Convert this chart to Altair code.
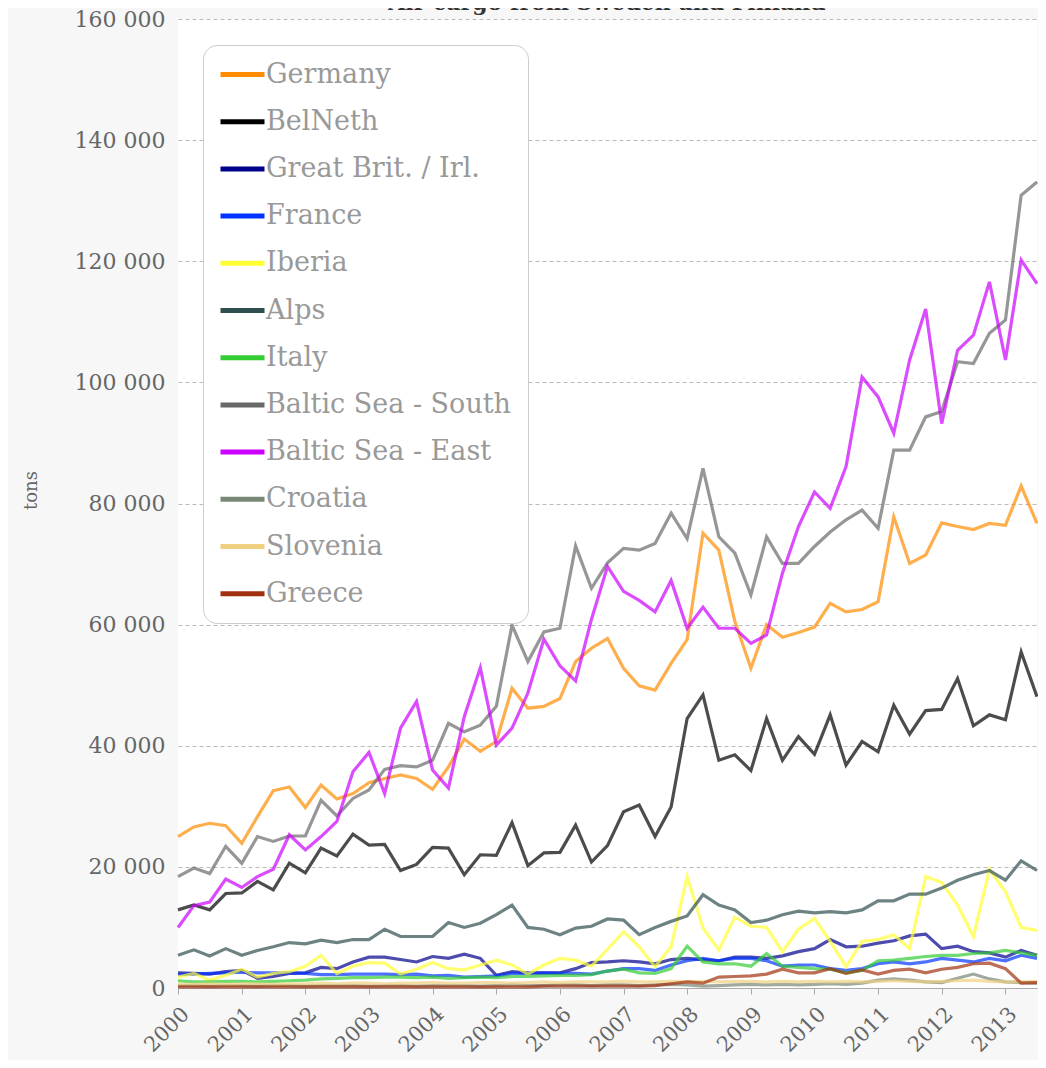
import altair as alt
import pandas as pd

# Quarterly time axis: 2000 Q1 .. 2013 Q3
quarters = [f"{y}/{m:02d}/01" for y in range(2000, 2014) for m in (1, 4, 7, 10)][:55]

series_names = ["Germany", "BelNeth", "Great Brit. / Irl.", "France", "Iberia", "Alps",
                "Italy", "Baltic Sea - South", "Baltic Sea - East", "Croatia", "Slovenia", "Greece"]
series_colors = ["#ff8c00", "#000000", "#00008b", "#0033ff", "#ffff33", "#2f4f4f",
                 "#33cc33", "#696969", "#cc00ff", "#778877", "#f0d080", "#a0300f"]

# values in thousand tons
germany = [25.0, 26.6, 27.2, 26.8, 23.9, 28.3, 32.6, 33.2, 29.8, 33.5, 31.2, 32.1, 33.9, 34.6,
           35.2, 34.6, 32.8, 36.5, 41.1, 39.1, 40.7, 49.5, 46.2, 46.5, 47.8, 53.9, 56.1, 57.7,
           52.8, 49.9, 49.2, 53.6, 57.5, 75.1, 72.3, 60.5, 52.8, 60.0, 57.9, 58.7, 59.6, 63.5,
           62.1, 62.5, 63.8, 77.8, 70.1, 71.5, 76.8, 76.2, 75.7, 76.7, 76.4, 82.9, 76.7]
belneth = [12.9, 13.7, 12.9, 15.6, 15.7, 17.6, 16.2, 20.6, 19.0, 23.1, 21.8, 25.4, 23.6, 23.7,
           19.4, 20.4, 23.2, 23.1, 18.7, 22.0, 21.9, 27.3, 20.2, 22.3, 22.4, 26.9, 20.8, 23.5,
           29.1, 30.2, 25.0, 29.9, 44.5, 48.4, 37.6, 38.5, 35.9, 44.5, 37.6, 41.5, 38.6, 45.1,
           36.8, 40.7, 39.0, 46.7, 41.9, 45.8, 46.0, 51.1, 43.3, 45.1, 44.3, 55.5, 48.1]
great_brit = [2.5, 2.4, 2.3, 2.7, 2.9, 1.6, 1.9, 2.4, 2.5, 3.4, 3.2, 4.3, 5.1, 5.1,
              4.7, 4.3, 5.2, 4.9, 5.6, 4.9, 2.1, 2.7, 2.5, 2.5, 2.5, 3.2, 4.2, 4.3,
              4.5, 4.3, 4.0, 4.7, 4.9, 4.7, 4.5, 5.1, 5.1, 4.9, 5.3, 6.0, 6.5, 8.0,
              6.8, 6.9, 7.4, 7.8, 8.6, 8.9, 6.5, 6.9, 6.0, 5.8, 5.1, 6.2, 5.4]
france = [2.2, 2.3, 2.4, 2.5, 2.6, 2.5, 2.5, 2.5, 2.4, 2.2, 2.2, 2.3, 2.3, 2.3,
          2.2, 2.3, 2.0, 2.1, 1.8, 1.9, 2.0, 2.4, 2.4, 2.5, 2.4, 2.4, 2.3, 2.8,
          3.2, 3.2, 2.9, 3.8, 4.5, 4.9, 4.5, 4.9, 4.9, 4.5, 3.6, 3.8, 3.8, 3.2,
          2.9, 3.2, 4.0, 4.3, 4.0, 4.3, 4.9, 4.6, 4.3, 4.9, 4.5, 5.4, 4.9]
iberia = [1.8, 2.4, 1.3, 2.1, 3.1, 1.8, 2.4, 2.7, 3.6, 5.4, 2.4, 3.6, 4.2, 4.1,
          2.3, 3.1, 4.2, 3.2, 3.0, 3.8, 4.6, 3.8, 2.3, 3.8, 4.9, 4.6, 3.6, 6.4,
          9.3, 6.8, 3.5, 6.8, 18.4, 9.9, 6.3, 11.7, 10.2, 10.0, 6.0, 9.7, 11.5, 7.7,
          3.5, 7.7, 8.0, 8.8, 6.5, 18.4, 17.4, 13.7, 8.5, 19.6, 15.9, 10.0, 9.5]
alps = [5.4, 6.3, 5.3, 6.5, 5.4, 6.2, 6.8, 7.5, 7.3, 7.9, 7.5, 8.0, 8.0, 9.7,
        8.5, 8.5, 8.5, 10.8, 10.0, 10.7, 12.1, 13.7, 10.0, 9.7, 8.8, 9.9, 10.2, 11.4,
        11.2, 8.8, 10.0, 11.0, 11.9, 15.4, 13.7, 12.9, 10.8, 11.2, 12.1, 12.7, 12.4, 12.6,
        12.4, 12.9, 14.4, 14.4, 15.5, 15.5, 16.5, 17.8, 18.7, 19.4, 17.8, 21.0, 19.4]
italy = [1.2, 1.0, 1.0, 1.1, 1.1, 1.0, 1.1, 1.2, 1.3, 1.5, 1.6, 1.7, 1.7, 1.8,
         1.8, 1.7, 1.8, 1.6, 1.7, 1.8, 1.7, 1.9, 1.9, 2.0, 2.1, 2.1, 2.2, 2.8,
         3.1, 2.5, 2.4, 3.2, 6.9, 4.3, 4.0, 4.0, 3.6, 5.7, 3.6, 3.4, 3.2, 3.1,
         2.5, 2.9, 4.5, 4.6, 4.9, 5.2, 5.4, 5.4, 5.7, 5.8, 6.2, 5.8, 5.4]
baltic_south = [18.4, 19.8, 18.9, 23.4, 20.6, 25.0, 24.2, 25.1, 25.1, 31.0, 28.4, 31.3, 32.7, 36.1,
                36.7, 36.5, 37.6, 43.7, 42.3, 43.4, 46.5, 59.9, 53.9, 58.8, 59.4, 73.0, 66.0, 70.2,
                72.6, 72.3, 73.4, 78.4, 74.2, 85.8, 74.5, 71.8, 64.9, 74.5, 70.1, 70.1, 72.9, 75.3,
                77.3, 78.9, 75.9, 88.8, 88.8, 94.3, 95.2, 103.4, 103.1, 108.1, 110.3, 130.9, 133.1]
baltic_east = [10.0, 13.6, 14.2, 18.0, 16.6, 18.4, 19.6, 25.3, 22.8, 25.0, 27.5, 35.7, 38.9, 32.1,
               42.9, 47.3, 36.0, 33.0, 44.8, 52.9, 40.1, 42.9, 48.7, 57.6, 53.2, 50.7, 60.9, 69.6,
               65.5, 64.0, 62.1, 67.3, 59.4, 62.9, 59.4, 59.4, 56.9, 58.3, 68.5, 76.2, 81.9, 79.2,
               86.1, 100.9, 97.6, 91.6, 103.7, 112.1, 93.2, 105.3, 107.8, 116.6, 103.7, 120.2, 116.3]
croatia = [0.4, 0.4, 0.3, 0.4, 0.4, 0.3, 0.4, 0.4, 0.3, 0.4, 0.4, 0.4, 0.3, 0.4,
           0.4, 0.3, 0.4, 0.4, 0.4, 0.3, 0.4, 0.5, 0.4, 0.4, 0.5, 0.5, 0.4, 0.5,
           0.5, 0.4, 0.5, 0.6, 0.5, 0.3, 0.4, 0.5, 0.6, 0.5, 0.6, 0.5, 0.6, 0.7,
           0.6, 0.8, 1.3, 1.5, 1.3, 1.0, 0.9, 1.6, 2.3, 1.5, 1.0, 0.9, 0.8]
slovenia = [0.6, 0.6, 0.7, 0.6, 0.7, 0.7, 0.6, 0.7, 0.7, 0.8, 0.7, 0.8, 0.8, 0.7,
            0.8, 0.8, 0.9, 0.8, 0.8, 0.9, 0.9, 0.8, 0.9, 1.0, 0.9, 1.0, 1.0, 1.0,
            1.1, 1.0, 1.0, 1.1, 1.0, 1.1, 1.0, 1.1, 1.1, 1.0, 1.1, 1.0, 1.1, 1.0,
            1.1, 1.0, 1.1, 1.2, 1.1, 1.0, 1.1, 1.2, 1.3, 1.1, 1.0, 1.0, 1.1]
greece = [0.2, 0.2, 0.2, 0.2, 0.2, 0.2, 0.2, 0.2, 0.2, 0.2, 0.2, 0.2, 0.2, 0.2,
          0.2, 0.2, 0.2, 0.2, 0.2, 0.2, 0.2, 0.2, 0.2, 0.3, 0.3, 0.3, 0.3, 0.3,
          0.3, 0.3, 0.4, 0.7, 1.0, 0.8, 1.8, 1.9, 2.0, 2.3, 3.1, 2.5, 2.5, 3.2,
          2.4, 3.0, 2.3, 2.9, 3.1, 2.5, 3.1, 3.4, 4.0, 4.1, 3.2, 0.8, 0.9]

all_series = [germany, belneth, great_brit, france, iberia, alps, italy,
              baltic_south, baltic_east, croatia, slovenia, greece]

rows = []
for name, vals in zip(series_names, all_series):
    for q, v in zip(quarters, vals):
        rows.append({"date": q, "region": name, "tons": v * 1000})
df = pd.DataFrame(rows)

title_df = pd.DataFrame({"t": ["Air cargo from Sweden and Finland"]})

FONT = "DejaVu Serif"

lines = alt.Chart(df).mark_line(strokeWidth=3.2, opacity=0.7).encode(
    x=alt.X(
        "date:T",
        scale=alt.Scale(domain=[alt.DateTime(year=2000, month=1, date=1),
                                alt.DateTime(year=2013, month=7, date=1)]),
        axis=alt.Axis(
            format="%Y", tickCount={"interval": "year", "step": 1},
            labelAngle=-45, grid=False, title=None,
            domainColor="#aaaaaa", tickColor="#aaaaaa", tickSize=6,
            labelFont=FONT, labelFontSize=21, labelColor="#666666", labelPadding=9,
        ),
    ),
    y=alt.Y(
        "tons:Q",
        scale=alt.Scale(domain=[0, 160000], nice=False),
        axis=alt.Axis(
            values=[0, 20000, 40000, 60000, 80000, 100000, 120000, 140000, 160000],
            labelExpr="replace(format(datum.value, ','), ',', ' ')",
            grid=True, gridDash=[4, 3], gridColor="#bbbbbb", gridWidth=1,
            domain=False, ticks=False, labelPadding=13,
            labelFont=FONT, labelFontSize=22, labelColor="#666666",
            title="tons", titleFont=FONT, titleFontSize=18, titleFontWeight="normal",
            titleColor="#666666", titleAngle=-90, titleX=-147, titleY=471,
            titleAlign="center", titleBaseline="middle",
        ),
    ),
    color=alt.Color(
        "region:N",
        scale=alt.Scale(domain=series_names, range=series_colors),
        legend=alt.Legend(
            orient="none", legendX=25, legendY=26, title=None,
            symbolType="M-2.2,0H2.2", symbolSize=400, symbolStrokeWidth=5,
            symbolOffset=10, labelOffset=10, symbolOpacity=1, labelLimit=600,
            labelFont=FONT, labelFontSize=27, labelColor="#999999",
            padding=16, rowPadding=19.2, cornerRadius=14,
            strokeColor="#cccccc", fillColor="#ffffff",
        ),
    ),
)

title_text = alt.Chart(title_df).mark_text(
    font=FONT, fontSize=22, fontWeight="bold", color="#333333",
    align="center", baseline="bottom",
).encode(text="t:N", x=alt.value(429), y=alt.value(-4))

chart = alt.layer(lines, title_text).properties(
    width=859, height=969,
    autosize=alt.AutoSizeParams(type="none"),
    padding={"left": 170, "top": 11, "right": 1, "bottom": 72},
    background="#f7f7f7",
).configure_view(fill="#ffffff", stroke=None)

chart.save("out.html", embed_options={"renderer": "svg", "actions": False})
